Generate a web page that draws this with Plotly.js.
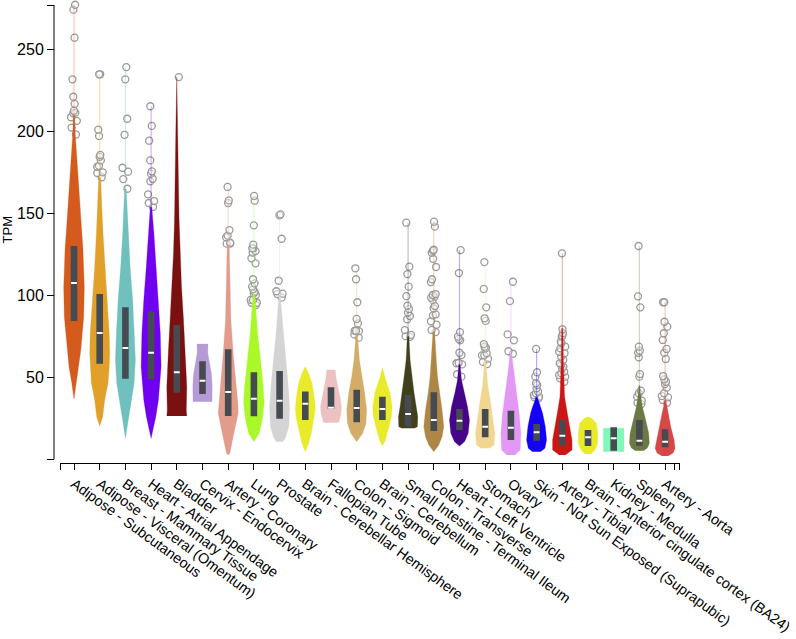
<!DOCTYPE html>
<html><head><meta charset="utf-8">
<script src="https://cdn.plot.ly/plotly-3.0.1.min.js"></script>
<style>html,body{margin:0;padding:0;background:#fff}</style>
</head><body><div id="chart" style="width:796px;height:639px"></div>
<script>
const tissues = ["Adipose - Subcutaneous","Adipose - Visceral (Omentum)","Breast - Mammary Tissue","Heart - Atrial Appendage","Bladder","Cervix - Endocervix","Artery - Coronary","Lung","Prostate","Brain - Cerebellar Hemisphere","Fallopian Tube","Colon - Sigmoid","Brain - Cerebellum","Small Intestine - Terminal Ileum","Colon - Transverse","Heart - Left Ventricle","Stomach","Ovary","Skin - Not Sun Exposed (Suprapubic)","Artery - Tibial","Brain - Anterior cingulate cortex (BA24)","Kidney - Medulla","Spleen","Artery - Aorta"];
const colors = ["#D45A1E","#E0A02A","#70C0BE","#7000F0","#7A1010","#B59AD6","#E29C8C","#AAF82A","#D4D4D4","#E8EA2A","#EBC1C2","#D4AC6A","#E8EA2A","#41401C","#AE8746","#45048A","#F0D690","#E398F5","#1400F5","#CC1515","#E8EA2A","#80F8B8","#6B7A45","#D44848"];
const q1 = [84.5,58.4,49.3,48.9,40.7,39.9,26.5,26.3,24.9,24.1,30.8,22.7,24.1,20.0,17.4,18.0,13.5,11.9,11.5,8.4,8.2,5.4,8.4,7.4];
const median = [107.6,77.1,68.0,65.1,53.2,48.0,41.2,37.1,35.9,34.0,31.6,31.4,30.8,27.7,24.1,23.7,20.0,19.4,16.6,14.5,13.5,12.9,11.5,10.9];
const q3 = [130.2,100.9,92.8,90.4,82.0,59.9,67.2,53.2,54.0,41.4,44.0,42.6,38.3,39.3,41.0,30.8,30.8,29.8,21.6,24.1,18.0,19.6,24.1,18.4];
// violin outline: TPM levels and relative density (kernel width)
const densLevels = [
[36.9,46.5,56.6,66.8,87,105,127.7,148,168.4,188.7,198.9,210],
[20.4,26,36.3,46.5,56,65,77,97.3,117.6,138,158,172],
[12.9,26,36.3,46.5,60.7,77,97.3,117.6,138,154,165],
[12.9,26,36.3,56.6,77,97.3,117.6,138,150,154],
[26.5,30.2,44.4,64.8,85,105.4,125.7,146,166.3,186.7,207,233],
[35.2,38,45,52,58,65,70.4],
[2.7,3.8,11.9,20,28.2,34.3,44.4,64.8,85,105.4,115.5,131],
[10.9,16,24.1,34.3,44.4,54.6,64.8,74.9,85,93.2,100],
[10.9,12.9,20,32.2,44.4,54.6,64.8,74.9,85,97.3,101],
[4.8,9.9,16,24.1,30.2,36.3,46.5,52.6,56.6],
[22.4,24,28,32.2,38,44,50,54.6],
[10.9,16,22.1,30.2,40.4,50.5,60.7,72.9,76],
[8.2,11.9,18,26.1,32.2,40.4,46.5,50.5,56],
[19,20,26.1,32.2,40.4,50.5,60.7,72.9,75],
[4.8,8.8,13.9,20,30.2,40.4,50.5,60.7,72.9,78],
[8.2,10.9,16,24.1,32.2,40.4,48.5,54.6,58],
[6.8,8.8,16,26.1,36.3,46.5,56.6,60],
[2.7,5.8,16,28.2,40.4,52.6,62.7,65],
[4.8,6.8,11.9,20,28.2,32.2,36.3,38],
[2.7,5.8,11.9,20,28.2,38.3,48.5,60,80],
[3.4,5.8,9.9,16,22.1,25.1,26.1],
[4.8,19],
[5.4,7,9.9,16,24.1,32.2,40.4,45],
[2.1,4,6.8,11.9,20,28.2,32.2,36]
];
const densWidths = [
[0,2.2,5,6.8,9.7,10.3,9,6.7,4.2,2.2,1.2,0.6],
[0,3,5,8.3,9.5,10,9.5,7.3,5,3.3,1.8,1],
[0,3.3,5.8,8.7,10,9,7.3,4.7,2.7,1.3,0.8],
[0,4.7,7.3,10,9.2,7.3,4.8,2.8,1.2,0.8],
[10,9.5,10,8.5,6.7,4.7,3.3,2.3,1.7,1.2,0.8,0],
[9.5,9.7,9.7,9,7,5.3,5.5],
[0,1.7,4.3,7.3,10,9.7,8,5,2.7,2,1.5,1],
[0,5.3,8.3,10.3,9.3,8,6,4,2.7,1.5,1],
[3,5.7,9.2,10,8.7,7.2,5.5,3.8,2.3,1,0.8],
[0,3.3,6,8.7,10,9.3,6.7,3.3,0],
[7.5,8.5,10,10.5,9,7,5,4.3],
[0,6,9.3,10,8,5,2.7,1.2,0.8],
[0,3,5.7,9,9.7,7.7,4.3,2.3,0],
[6,9.3,9.7,8,6,4,2,1,0.8],
[0,5,8.3,10,8.3,5.7,3.7,2.5,1.3,0.8],
[0,5,8.7,10,8,4.7,2,1,0.7],
[4,8.7,9.7,7.7,5,2.3,1,0.7],
[4,9.3,10,8.3,5.7,3,1,0.7],
[4,8.3,10,8.7,6,4,1.5,0.8],
[3,9.7,9.7,7.7,5,2.3,1.5,1,0.6],
[3,7,9.7,9.7,8.3,3.7,0],
[10.3,10.3],
[4,8,10,9.3,6.3,3,1,0.6],
[3,8,10,9,5.7,3,1.5,0.8]
];
const outliers = [
[277.3,274.3,257.2,231.8,221.2,216.9,212.7,211.5,211.1,208.7,206.5,202.4,198.2],
[234.9,234.9,201.1,197.3,185.7,184.6,182.4,179.1,178.5,175.1,174.7,172.1],
[239.3,231.8,207.8,198.0,177.9,175.5,171.0,165.1],
[215.4,203.4,194.4,182.4,175.7,174.3,171.2,169.6,161.7,157.6,156.4,154.0],
[233.2],
[],
[166.2,158.0,156.4,139.9,136.5,135.5,132.2,131.6,131.6],
[160.7,157.8,142.8,131.0,128.8,128.8,127.1,126.1,122.7,119.6,109.9,107.4,105.4,103.8,102.3,101.3,100.3,97.3,97.3,95.6,95.6,94.2],
[149.5,148.9,134.6,109.0,102.6,101.1,100.9,98.7],
[],
[],
[116.6,109.9,95.9,85.7,83.0,78.5,78.5,78.3,76.3,74.3],
[],
[144.4,117.6,113.1,105.4,99.6,93.8,91.8,89.6,87.5,85.5,78.9,76.0,75.2,74.8],
[145.0,142.0,127.9,127.3,126.1,122.4,117.4,109.9,108.2,100.9,100.3,99.3,98.7,97.3,93.6,92.2,88.5,87.9,84.3,82.2,79.0,77.7],
[127.7,113.7,77.7,74.9,73.5,72.7,65.1,63.7,59.0,58.7,58.0,52.0,50.5],
[120.4,104.0,92.8,86.1,84.5,70.4,68.8,68.2,67.6,64.8,63.5,63.5,61.5,59.5,58.2],
[108.4,96.6,76.3,72.7,66.0,64.5],
[67.4,53.2,50.5,46.5,45.4,43.4,41.3,40.4,39.3,38.3,37.9,37.3],
[125.7,79.4,77.0,75.5,74.9,71.8,70.9,68.8,67.8,65.7,64.8,62.7,60.7,58.7,57.7,56.6,55.6,53.5,52.6,51.5,50.5,49.5,47.4],
[],
[],
[130.2,99.5,92.8,68.8,66.3,65.1,62.3,52.1,50.5,42.0,40.4,38.3,35.9,34.6,33.8],
[95.9,95.9,84.0,81.0,77.0,72.9,67.4,65.1,61.3,50.9,48.9,47.4,46.0,43.8,40.4,38.7,37.9,36.3,34.6]
];
const yTickVals = [0,50,100,150,200,250,277.1];
const yTickText = ['','50','100','150','200','250',''];

const PX = 1/25.7;          // one reference pixel in category units
const BOXHALF = 3.3*PX;
const MEDHALF = 2.9*PX;
const X_RANGE = [-0.545, 23.58];

function rgba(hex,a){const n=parseInt(hex.slice(1),16);return `rgba(${n>>16},${(n>>8)&255},${n&255},${a})`;}

const traces = [];
// outliers (box layer, jittered by the library)
tissues.forEach((t,i)=>{
  if(!outliers[i].length) return;
  traces.push({type:'box', y:outliers[i], x0:i, boxpoints:'all', jitter:1, pointpos:0, width:0.3,
    fillcolor:'rgba(0,0,0,0)', line:{width:0, color:'rgba(0,0,0,0)'}, whiskerwidth:0,
    marker:{symbol:'circle', size:7, color:'rgba(255,255,255,0.5)', line:{width:1.3, color:'#9a9a9a'}},
    hoverinfo:'skip'});
});
// tails
tissues.forEach((t,i)=>{
  if(!outliers[i].length) return;
  const top = densLevels[i][densLevels[i].length-1];
  const mx = Math.max(...outliers[i]);
  if(mx<=top) return;
  traces.push({type:'scatter', mode:'lines', x:[i,i], y:[top,mx], line:{color:rgba(colors[i],0.32), width:1.2}, hoverinfo:'skip'});
});
// violins
tissues.forEach((t,i)=>{
  const lv = densLevels[i], w = densWidths[i];
  const xs=[], ys=[];
  lv.forEach((v,k)=>{xs.push(i + w[k]*PX); ys.push(v);});
  for(let k=lv.length-1;k>=0;k--){xs.push(i - w[k]*PX); ys.push(lv[k]);}
  traces.push({type:'scatter', mode:'lines', x:xs, y:ys, fill:'toself', fillcolor:colors[i],
    line:{width:0.3, color:colors[i]}, hoverinfo:'skip'});
});
// boxes
tissues.forEach((t,i)=>{
  traces.push({type:'scatter', mode:'lines', x:[i-BOXHALF,i+BOXHALF,i+BOXHALF,i-BOXHALF,i-BOXHALF],
    y:[q1[i],q1[i],q3[i],q3[i],q1[i]], fill:'toself', fillcolor:'#464A51', line:{width:0,color:'#464A51'}, hoverinfo:'skip'});
});
// medians
const mx=[], my=[];
tissues.forEach((t,i)=>{mx.push(i-MEDHALF,i+MEDHALF,null); my.push(median[i],median[i],null);});
traces.push({type:'scatter', mode:'lines', x:mx, y:my, line:{color:'#ffffff', width:2}, hoverinfo:'skip'});

// category ticks plus the outer ticks at the ends of the axis
const xTickVals = [X_RANGE[0]].concat(tissues.map((t,i)=>i), [23.35, X_RANGE[1]-0.005]);
const xTickText = [''].concat(tissues, ['','']);
const layout = {
  width:796, height:639,
  margin:{l:54, r:116, t:0, b:176, pad:0},
  paper_bgcolor:'#ffffff', plot_bgcolor:'#ffffff',
  showlegend:false, boxmode:'overlay',
  font:{family:'"Liberation Sans", Arial, sans-serif', color:'#000'},
  xaxis:{domain:[6/626,1], range:X_RANGE, anchor:'free', position:0,
    tickmode:'array', tickvals:xTickVals, ticktext:xTickText, tickangle:36,
    ticklabeloverflow:'allow',
    ticks:'outside', ticklen:6, tickcolor:'#000', tickwidth:1,
    showline:true, linecolor:'#000', linewidth:1, showgrid:false, zeroline:false,
    tickfont:{size:14.4, color:'#000'}},
  yaxis:{domain:[3.5/463,1], range:[0,280.2], anchor:'free', position:0,
    tickmode:'array', tickvals:yTickVals, ticktext:yTickText,
    ticks:'outside', ticklen:7, tickcolor:'#000', tickwidth:1,
    showline:false, showgrid:false, zeroline:false,
    tickfont:{size:16, color:'#000'},
    title:{text:'TPM', font:{size:13, color:'#000'}}},
  shapes:[{type:'line', xref:'paper', yref:'y', x0:0, x1:0, y0:yTickVals[0], y1:yTickVals[yTickVals.length-1],
    line:{color:'#000', width:1}}]
};
Plotly.newPlot('chart', traces, layout, {staticPlot:true, displayModeBar:false});
</script>
</body></html>
